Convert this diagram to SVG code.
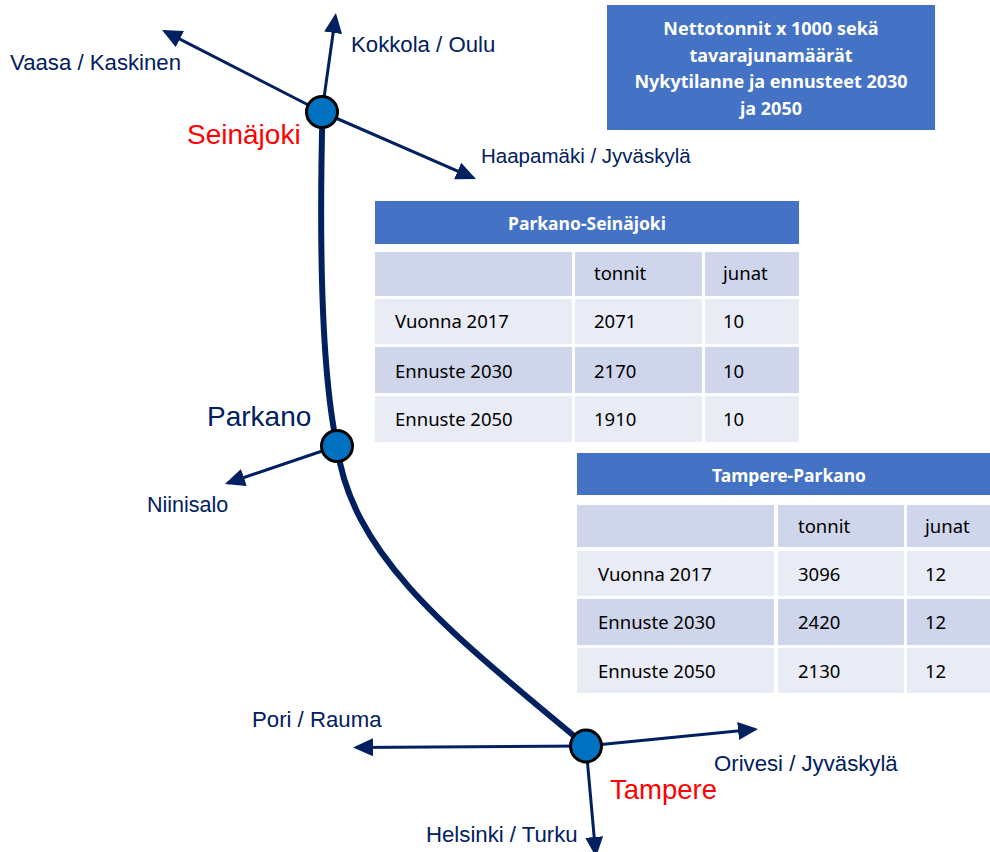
<svg xmlns="http://www.w3.org/2000/svg" width="990" height="852" viewBox="0 0 990 852">
<style>
.lbl{font-family:"Liberation Sans",Arial,sans-serif;font-size:22.2px;fill:#002060}
.city{font-family:"Liberation Sans",Arial,sans-serif;font-size:28px}
.red{fill:#FF0000}
.navy{fill:#002060}
.arr{stroke:#002060;stroke-width:3;fill:none}
.main{stroke:#002060;stroke-width:6;fill:none;stroke-linecap:round}
.node{fill:#0070C0;stroke:#000;stroke-width:3}
.hdr{fill:#4472C4}
.dk{fill:#CFD5EA}
.lt{fill:#E9EBF5}
.tt{font-family:"Noto Sans","Open Sans",sans-serif;font-size:18.5px;fill:#000}
.th{font-family:"Noto Sans","Open Sans",sans-serif;font-size:17.5px;font-weight:bold;fill:#fff}
.ti{font-family:"Noto Sans","Open Sans",sans-serif;font-size:18px;font-weight:bold;fill:#fff}
</style>
<defs>
<marker id="ah" viewBox="0 0 20 18" markerWidth="20" markerHeight="18" refX="17" refY="9" orient="auto" markerUnits="userSpaceOnUse">
<path d="M0,0 L20,9 L0,18 z" fill="#002060"/>
</marker>
</defs>
<rect width="990" height="852" fill="#fff"/>

<g id="connectors">
<path class="main" d="M322.5,112 C319,250 321,370 337,446"/>
<path class="main" d="M337,446 C352,560 460,640 586,746"/>
<line class="arr" x1="322" y1="112" x2="164.7" y2="31.3" marker-end="url(#ah)"/>
<line class="arr" x1="322" y1="112" x2="335.5" y2="16" marker-end="url(#ah)"/>
<line class="arr" x1="322" y1="112" x2="473.2" y2="177.8" marker-end="url(#ah)"/>
<line class="arr" x1="337" y1="446" x2="227.8" y2="483" marker-end="url(#ah)"/>
<line class="arr" x1="586" y1="746" x2="356" y2="747.4" marker-end="url(#ah)"/>
<line class="arr" x1="586" y1="746" x2="755" y2="729.3" marker-end="url(#ah)"/>
<line class="arr" x1="586" y1="746" x2="595.7" y2="854" marker-end="url(#ah)"/>
</g>

<g id="seinajoki">
<circle class="node" cx="322" cy="112" r="15.5"/>
<text class="city red" x="187" y="144">Seinäjoki</text>
</g>
<g id="parkano">
<circle class="node" cx="337" cy="446" r="15.5"/>
<text class="city navy" x="207" y="426">Parkano</text>
</g>
<g id="tampere">
<ellipse class="node" cx="586" cy="746" rx="15.5" ry="16"/>
<text class="city red" x="610" y="799" style="font-size:27.5px">Tampere</text>
</g>

<g id="vaasa"><text class="lbl" x="10" y="70">Vaasa / Kaskinen</text></g>
<g id="kokkola"><text class="lbl" x="351" y="52">Kokkola / Oulu</text></g>
<g id="haapamaki"><text class="lbl" x="481" y="163" style="font-size:20.5px">Haapamäki / Jyväskylä</text></g>
<g id="niinisalo"><text class="lbl" x="147" y="512" style="font-size:21.5px">Niinisalo</text></g>
<g id="pori"><text class="lbl" x="252" y="727">Pori / Rauma</text></g>
<g id="orivesi"><text class="lbl" x="714" y="771">Orivesi / Jyväskylä</text></g>
<g id="helsinki"><text class="lbl" x="426" y="842">Helsinki / Turku</text></g>

<g id="title">
<rect x="607" y="5" width="328" height="125" class="hdr"/>
<text class="ti" text-anchor="middle" x="771" y="35">Nettotonnit x 1000 sekä</text>
<text class="ti" text-anchor="middle" x="771" y="62">tavarajunamäärät</text>
<text class="ti" text-anchor="middle" x="771" y="88">Nykytilanne ja ennusteet 2030</text>
<text class="ti" text-anchor="middle" x="771" y="115">ja 2050</text>
</g>

<g id="table-parkano-seinajoki">
<rect x="375" y="201" width="424" height="43" class="hdr"/>
<text class="th" text-anchor="middle" x="587" y="230">Parkano-Seinäjoki</text>
<rect x="375" y="252" width="197" height="44" class="dk"/>
<rect x="575" y="252" width="127" height="44" class="dk"/>
<rect x="705" y="252" width="94" height="44" class="dk"/>
<rect x="375" y="299" width="197" height="45" class="lt"/>
<rect x="575" y="299" width="127" height="45" class="lt"/>
<rect x="705" y="299" width="94" height="45" class="lt"/>
<rect x="375" y="347" width="197" height="46" class="dk"/>
<rect x="575" y="347" width="127" height="46" class="dk"/>
<rect x="705" y="347" width="94" height="46" class="dk"/>
<rect x="375" y="396" width="197" height="46" class="lt"/>
<rect x="575" y="396" width="127" height="46" class="lt"/>
<rect x="705" y="396" width="94" height="46" class="lt"/>
<text class="tt" x="594" y="280">tonnit</text>
<text class="tt" x="723" y="280">junat</text>
<text class="tt" x="395" y="328">Vuonna 2017</text>
<text class="tt" x="594" y="328">2071</text>
<text class="tt" x="723" y="328">10</text>
<text class="tt" x="395" y="378">Ennuste 2030</text>
<text class="tt" x="594" y="378">2170</text>
<text class="tt" x="723" y="378">10</text>
<text class="tt" x="395" y="426">Ennuste 2050</text>
<text class="tt" x="594" y="426">1910</text>
<text class="tt" x="723" y="426">10</text>
</g>

<g id="table-tampere-parkano">
<rect x="577" y="453" width="413" height="42" class="hdr"/>
<text class="th" text-anchor="middle" x="789" y="482">Tampere-Parkano</text>
<rect x="577" y="505" width="197" height="42" class="dk"/>
<rect x="778" y="505" width="126" height="42" class="dk"/>
<rect x="907" y="505" width="83" height="42" class="dk"/>
<rect x="577" y="551" width="197" height="45" class="lt"/>
<rect x="778" y="551" width="126" height="45" class="lt"/>
<rect x="907" y="551" width="83" height="45" class="lt"/>
<rect x="577" y="599" width="197" height="46" class="dk"/>
<rect x="778" y="599" width="126" height="46" class="dk"/>
<rect x="907" y="599" width="83" height="46" class="dk"/>
<rect x="577" y="648" width="197" height="45" class="lt"/>
<rect x="778" y="648" width="126" height="45" class="lt"/>
<rect x="907" y="648" width="83" height="45" class="lt"/>
<text class="tt" x="798" y="533">tonnit</text>
<text class="tt" x="925" y="533">junat</text>
<text class="tt" x="598" y="581">Vuonna 2017</text>
<text class="tt" x="798" y="581">3096</text>
<text class="tt" x="925" y="581">12</text>
<text class="tt" x="598" y="629">Ennuste 2030</text>
<text class="tt" x="798" y="629">2420</text>
<text class="tt" x="925" y="629">12</text>
<text class="tt" x="598" y="678">Ennuste 2050</text>
<text class="tt" x="798" y="678">2130</text>
<text class="tt" x="925" y="678">12</text>
</g>
</svg>
